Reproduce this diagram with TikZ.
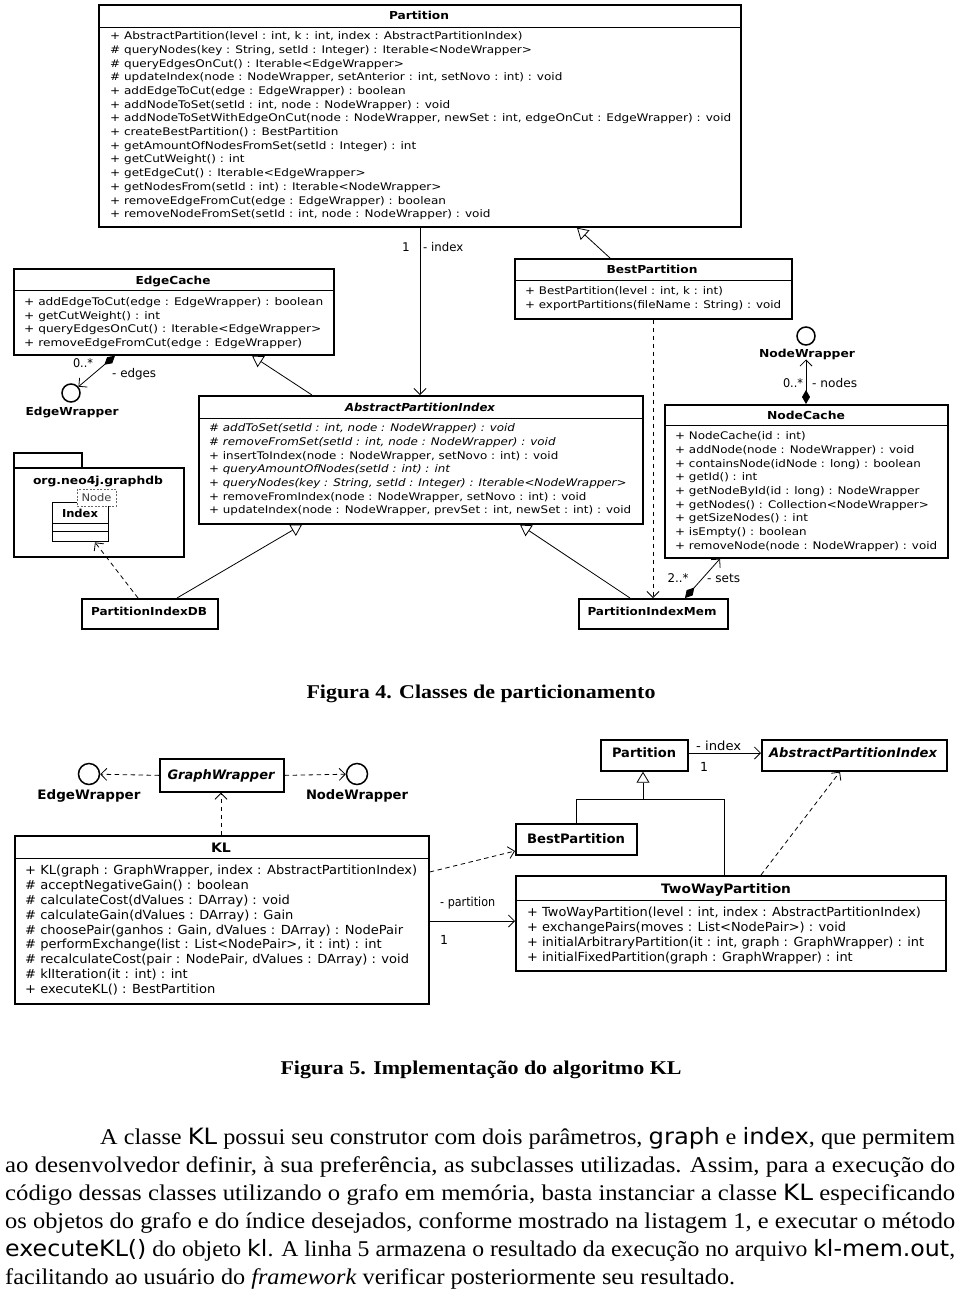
\documentclass[tikz,border=0pt]{standalone}
\usepackage{fontspec}
\usepackage{graphicx}
\setmainfont{Liberation Serif}
\newfontfamily\uml{DejaVu Sans}
\usetikzlibrary{arrows.meta,calc}
\newsavebox\fitbox
\newlength\fitlen
\newcommand\fitto[2]{\sbox\fitbox{#2}\setlength\fitlen{\wd\fitbox}\pgfmathsetmacro\fitr{#1/\fitlen}\scalebox{\fitr}[1]{\usebox\fitbox}}
\newcommand\mem[1]{\begin{tabular}{@{}l@{}}#1\end{tabular}}
\newcommand\fA{\uml\fontsize{10.5}{13.7}\selectfont}
\newcommand\fAs{\uml\fontsize{10.5}{13.5}\selectfont}
\newcommand\fB{\uml\fontsize{12.5}{14.8}\selectfont}
\newcommand\fBt{\uml\fontsize{12.5}{15}\selectfont}
\begin{document}
\begin{tikzpicture}[x=1pt,y=-1pt,
  box/.style={draw, line width=1.7pt, inner sep=0pt, anchor=north west, fill=white},
  thinbox/.style={draw, line width=1.3pt, inner sep=0pt, anchor=north west, fill=white},
  sepl/.style={line width=0.8pt},
  conn/.style={line width=0.8pt},
  dashd/.style={conn, dash pattern=on 4.5pt off 3.5pt},
  navi/.style={-{Straight Barb[length=6pt,width=12pt]}},
  gen/.style={-{Triangle[open,length=11pt,width=13pt]}},
  comp/.style={{Diamond[length=14pt,width=8pt]}-{Straight Barb[length=6pt,width=12pt]}},
  lolly/.style={circle, draw, line width=1.5pt, minimum size=#1, inner sep=0pt, fill=white},
  ttl/.style={inner sep=0pt, anchor=base, font=\uml\bfseries\fontsize{11}{13}\selectfont},
  ttlB/.style={inner sep=0pt, anchor=base, font=\uml\bfseries\fontsize{13}{15}\selectfont},
  memb/.style={inner sep=0pt, anchor=north west},
  lbl/.style={inner sep=0pt, anchor=base, font=\uml\fontsize{12}{14}\selectfont},
  lblB/.style={inner sep=0pt, anchor=base, font=\uml\fontsize{12.5}{14}\selectfont},
  para/.style={inner sep=0pt, anchor=base west, font=\fontsize{22.5}{28}\selectfont},
  capt/.style={inner sep=0pt, anchor=base, font=\bfseries\fontsize{19.5}{22}\selectfont}]
\useasboundingbox[fill=white] (0,0) rectangle (960,1291);

% ================= Figure 4 =================
% Partition
\node[box, minimum width=642pt, minimum height=222pt] (part) at (98,4) {};
\draw[sepl] (part.west |- 0,27) -- (part.east |- 0,27);
\node[ttl] (partT) at (419,19) {\fitto{60}{Partition}};
\node[memb, font=\fA] (partM) at (110,29.9) {\fitto{621}{\mem{%
+ AbstractPartition(level : int, k : int, index : AbstractPartitionIndex)\\
\# queryNodes(key : String, setId : Integer) : Iterable<NodeWrapper>\\
\# queryEdgesOnCut() : Iterable<EdgeWrapper>\\
\# updateIndex(node : NodeWrapper, setAnterior : int, setNovo : int) : void\\
+ addEdgeToCut(edge : EdgeWrapper) : boolean\\
+ addNodeToSet(setId : int, node : NodeWrapper) : void\\
+ addNodeToSetWithEdgeOnCut(node : NodeWrapper, newSet : int, edgeOnCut : EdgeWrapper) : void\\
+ createBestPartition() : BestPartition\\
+ getAmountOfNodesFromSet(setId : Integer) : int\\
+ getCutWeight() : int\\
+ getEdgeCut() : Iterable<EdgeWrapper>\\
+ getNodesFrom(setId : int) : Iterable<NodeWrapper>\\
+ removeEdgeFromCut(edge : EdgeWrapper) : boolean\\
+ removeNodeFromSet(setId : int, node : NodeWrapper) : void}}};

% EdgeCache
\node[box, minimum width=320pt, minimum height=86pt] (ec) at (13,268) {};
\draw[sepl] (ec.west |- 0,290) -- (ec.east |- 0,290);
\node[ttl] (ecT) at (173,284) {\fitto{75}{EdgeCache}};
\node[memb, font=\fAs] (ecM) at (24,296) {\fitto{299}{\mem{%
+ addEdgeToCut(edge : EdgeWrapper) : boolean\\
+ getCutWeight() : int\\
+ queryEdgesOnCut() : Iterable<EdgeWrapper>\\
+ removeEdgeFromCut(edge : EdgeWrapper)}}};

% BestPartition
\node[box, minimum width=277pt, minimum height=60pt] (bp) at (514,258) {};
\draw[sepl] (bp.west |- 0,280) -- (bp.east |- 0,280);
\node[ttl] (bpT) at (652,273) {\fitto{91}{BestPartition}};
\node[memb, font=\fAs] (bpM) at (525,285) {\fitto{256}{\mem{%
+ BestPartition(level : int, k : int)\\
+ exportPartitions(fileName : String) : void}}};

% AbstractPartitionIndex
\node[box, minimum width=444pt, minimum height=128pt] (api) at (198,395) {};
\draw[sepl] (api.west |- 0,418) -- (api.east |- 0,418);
\node[ttl] (apiT) at (420,411) {\fitto{150}{\itshape AbstractPartitionIndex}};
\node[memb, font=\fA] (apiM) at (209,421.9) {\fitto{422}{\mem{%
\itshape \# addToSet(setId : int, node : NodeWrapper) : void\\
\itshape \# removeFromSet(setId : int, node : NodeWrapper) : void\\
+ insertToIndex(node : NodeWrapper, setNovo : int) : void\\
\itshape + queryAmountOfNodes(setId : int) : int\\
\itshape + queryNodes(key : String, setId : Integer) : Iterable<NodeWrapper>\\
+ removeFromIndex(node : NodeWrapper, setNovo : int) : void\\
+ updateIndex(node : NodeWrapper, prevSet : int, newSet : int) : void}}};

% NodeCache
\node[box, minimum width=283pt, minimum height=153pt] (nc) at (664,404) {};
\draw[sepl] (nc.west |- 0,425) -- (nc.east |- 0,425);
\node[ttl] (ncT) at (806,419) {\fitto{78}{NodeCache}};
\node[memb, font=\fA] (ncM) at (675,429.9) {\fitto{262}{\mem{%
+ NodeCache(id : int)\\
+ addNode(node : NodeWrapper) : void\\
+ containsNode(idNode : long) : boolean\\
+ getId() : int\\
+ getNodeById(id : long) : NodeWrapper\\
+ getNodes() : Collection<NodeWrapper>\\
+ getSizeNodes() : int\\
+ isEmpty() : boolean\\
+ removeNode(node : NodeWrapper) : void}}};

% lollipops fig 4
\node[lolly=18pt] (ew1) at (71,393) {};
\node[ttl] (ew1L) at (72,415) {\fitto{93}{EdgeWrapper}};
\node[lolly=18pt] (nw1) at (806,336) {};
\node[ttl] (nw1L) at (807,357) {\fitto{96}{NodeWrapper}};

% package org.neo4j.graphdb
\node[box, minimum width=68pt, minimum height=15pt] (pkgtab) at (13,452) {};
\node[box, minimum width=170pt, minimum height=89pt] (pkg) at (13,467) {};
\node[ttl] (pkgT) at (98,484) {\fitto{130}{org.neo4j.graphdb}};
\node[thinbox, minimum width=56pt, minimum height=39pt] (idx) at (52,502) {};
\draw[sepl] (idx.west |- 0,523) -- (idx.east |- 0,523);
\draw[sepl] (idx.west |- 0,531) -- (idx.east |- 0,531);
\node[ttl] (idxT) at (80,517) {\fitto{36}{Index}};
\node[draw=black!60, dash pattern=on 2pt off 1.5pt, line width=0.7pt, fill=white, inner sep=0pt,
      minimum width=39pt, minimum height=17pt, anchor=north west] (nodebox) at (77,489) {};
\node[inner sep=0pt, anchor=base, font=\uml\fontsize{10.5}{12}\selectfont, text=black!75] (nodeT) at (96.5,501.5) {\fitto{30}{Node}};

% PartitionIndexDB / Mem
\node[box, minimum width=136pt, minimum height=30pt] (pidb) at (81,598) {};
\node[ttl] (pidbT) at (149,615) {\fitto{116}{PartitionIndexDB}};
\node[box, minimum width=149pt, minimum height=30pt] (pim) at (578,598) {};
\node[ttl] (pimT) at (652,615) {\fitto{129}{PartitionIndexMem}};

% connectors fig 4
\draw[conn,navi] (420,0 |- part.south) -- (420,0 |- api.north);
\node[lbl] (l1) at (406,251) {1};
\node[lbl, anchor=base west] (l2) at (423,251) {\fitto{40}{- index}};
\draw[conn,gen] (610,0 |- bp.north) -- (577,0 |- part.south);
\draw[conn,gen] (312,0 |- api.north) -- (252,0 |- ec.south);
\draw[conn,comp] (115,0 |- ec.south) -- (ew1);
\node[lbl] (l3) at (83,367) {\fitto{20}{0..*}};
\node[lbl, anchor=base west] (l4) at (112,377) {\fitto{44}{- edges}};
\draw[conn,comp] (806,0 |- nc.north) -- (806,0 |- nw1L.south);
\node[lbl] (l5) at (793,387) {\fitto{20}{0..*}};
\node[lbl, anchor=base west] (l6) at (812,387) {\fitto{45}{- nodes}};
\draw[dashd,navi] (653,0 |- bp.south) -- (653,0 |- pim.north);
\draw[conn,comp] (685,0 |- pim.north) -- (720,0 |- nc.south);
\node[lbl] (l7) at (678,582) {\fitto{21}{2..*}};
\node[lbl, anchor=base west] (l8) at (707,582) {\fitto{33}{- sets}};
\draw[conn,gen] (630,0 |- pim.north) -- (520,0 |- api.south);
\draw[conn,gen] (177,0 |- pidb.north) -- (302,0 |- api.south);
\draw[dashd,navi] (138,0 |- pidb.north) -- (95,0 |- idx.south);

\node[capt] (cap4) at (481,698) {\fitto{349}{Figura 4. Classes de particionamento}};

% ================= Figure 5 =================
\node[lolly=21pt] (ew2) at (89,774) {};
\node[ttlB] (ew2L) at (89,799) {\fitto{103}{EdgeWrapper}};
\node[lolly=21pt] (nw2) at (357,774) {};
\node[ttlB] (nw2L) at (357,799) {\fitto{102}{NodeWrapper}};
\node[box, minimum width=124pt, minimum height=33pt] (gw) at (159,758) {};
\node[ttlB] (gwT) at (221,779) {\fitto{107}{\itshape GraphWrapper}};

\node[box, minimum width=414pt, minimum height=168pt] (kl) at (14,835) {};
\draw[sepl] (kl.west |- 0,858) -- (kl.east |- 0,858);
\node[ttlB] (klT) at (221,852) {\fitto{20}{KL}};
\node[memb, font=\fB] (klM) at (25,864.3) {\fitto{392}{\mem{%
+ KL(graph : GraphWrapper, index : AbstractPartitionIndex)\\
\# acceptNegativeGain() : boolean\\
\# calculateCost(dValues : DArray) : void\\
\# calculateGain(dValues : DArray) : Gain\\
\# choosePair(ganhos : Gain, dValues : DArray) : NodePair\\
\# performExchange(list : List<NodePair>, it : int) : int\\
\# recalculateCost(pair : NodePair, dValues : DArray) : void\\
\# klIteration(it : int) : int\\
+ executeKL() : BestPartition}}};

\node[box, minimum width=87pt, minimum height=31pt] (p5) at (600,739) {};
\node[ttlB] (p5T) at (644,757) {\fitto{64}{Partition}};
\node[box, minimum width=185pt, minimum height=31pt] (api5) at (761,739) {};
\node[ttlB] (api5T) at (853,757) {\fitto{168}{\itshape AbstractPartitionIndex}};
\node[box, minimum width=121pt, minimum height=31pt] (bp5) at (515,823) {};
\node[ttlB] (bp5T) at (576,843) {\fitto{98}{BestPartition}};

\node[box, minimum width=430pt, minimum height=95pt] (twp) at (515,875) {};
\draw[sepl] (twp.west |- 0,900) -- (twp.east |- 0,900);
\node[ttlB] (twpT) at (726,893) {\fitto{130}{TwoWayPartition}};
\node[memb, font=\fBt] (twpM) at (527,905.3) {\fitto{397}{\mem{%
+ TwoWayPartition(level : int, index : AbstractPartitionIndex)\\
+ exchangePairs(moves : List<NodePair>) : void\\
+ initialArbitraryPartition(it : int, graph : GraphWrapper) : int\\
+ initialFixedPartition(graph : GraphWrapper) : int}}};

% connectors fig 5
\draw[dashd,navi] (gw.west) -- (ew2);
\draw[dashd,navi] (gw.east) -- (nw2);
\draw[dashd,navi] (221,0 |- kl.north) -- (221,0 |- gw.south);
\draw[conn,navi] (p5.east |- 0,753) -- (api5.west |- 0,753);
\node[lblB, anchor=base west] (l9) at (696,750) {\fitto{45}{- index}};
\node[lblB] (l10) at (704,771) {1};
\draw[conn] (576,0 |- bp5.north) -- (576,799) -- (724,799) -- (724,0 |- twp.north);
\draw[conn,gen] (643,799) -- (643,0 |- p5.south);
\draw[dashd,navi] (761,0 |- twp.north) -- (840,0 |- api5.south);
\draw[dashd,navi] (kl.east |- 0,872) -- (bp5.west |- 0,851);
\draw[conn,navi] (kl.east |- 0,921) -- (twp.west |- 0,921);
\node[lblB, anchor=base west] (l11) at (440,906) {\fitto{55}{- partition}};
\node[lblB] (l12) at (444,944) {1};

\node[capt] (cap5) at (481,1074) {\fitto{401}{Figura 5. Implementação do algoritmo KL}};

% ================= Paragraph =================
\node[para] (t1) at (100,1144) {\fitto{855}{A classe {\uml KL} possui seu construtor com dois parâmetros, {\uml graph} e {\uml index}, que permitem}};
\node[para] (t2) at (5,1172) {\fitto{950}{ao desenvolvedor definir, à sua preferência, as subclasses utilizadas. Assim, para a execução do}};
\node[para] (t3) at (5,1200) {\fitto{950}{código dessas classes utilizando o grafo em memória, basta instanciar a classe {\uml KL} especificando}};
\node[para] (t4) at (5,1228) {\fitto{950}{os objetos do grafo e do índice desejados, conforme mostrado na listagem 1, e executar o método}};
\node[para] (t5) at (5,1256) {\fitto{950}{{\uml executeKL()} do objeto {\uml kl}. A linha 5 armazena o resultado da execução no arquivo {\uml kl-mem.out},}};
\node[para] (t6) at (5,1284) {\fitto{730}{facilitando ao usuário do \textit{framework} verificar posteriormente seu resultado.}};
\end{tikzpicture}
\end{document}
